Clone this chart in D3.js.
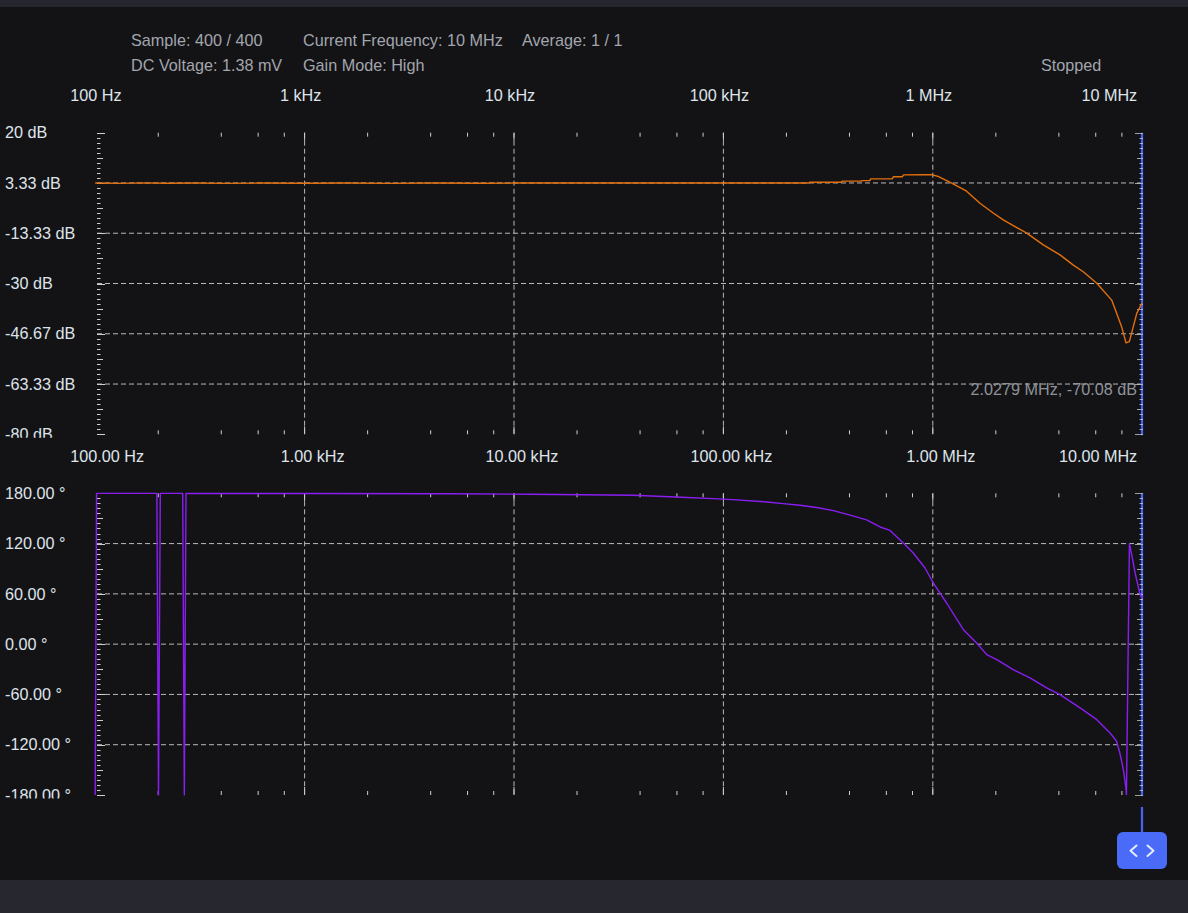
<!DOCTYPE html>
<html><head><meta charset="utf-8">
<script src="https://cdn.jsdelivr.net/npm/d3@7"></script>
<style>html,body{margin:0;padding:0;background:#131316;overflow:hidden}</style>
</head><body><svg id="c" width="1188" height="913"></svg>
<script>
// ---------- data ----------
const freqMag = [100,130,170,220,300,420,600,1000,1600,2500,4000,7000,10000,20000,40000,80000,150000,255000,258000,365000,369000,455000,460000,500000,505000,640000,648000,715000,725000,900000,989000,1060000,1120000,1250000,1450000,1680000,1950000,2170000,2520000,2810000,3370000,4050000,4690000,5230000,6070000,7150000,7550000,7980000,8370000,8680000,9060000,9420000,9770000,10000000];
const magDb = [3.3,3.2,3.35,3.25,3.3,3.2,3.3,3.25,3.3,3.2,3.3,3.25,3.3,3.3,3.3,3.3,3.3,3.3,3.55,3.55,3.95,3.95,4.1,4.1,4.7,4.7,5.4,5.4,6.0,6.05,6.05,5.5,4.7,3.0,0.6,-3.4,-6.7,-8.9,-11.5,-13.3,-17.2,-20.5,-23.9,-26.1,-29.9,-35.5,-39.9,-44.4,-49.7,-49.3,-44.4,-39.9,-37.7,-36.5];
const freqPhase = [100,101.5,197,200.6,204.6,261.7,266.5,271.4,1000,5000,12150,36990,63200,89200,115800,161000,192700,232000,279000,335000,403000,483000,560000,625000,723000,807000,918000,1005000,1164000,1400000,1620000,1810000,2020000,2420000,2910000,3500000,4050000,5050000,6070000,7020000,7550000,7820000,8130000,8340000,8410000,8690000,8910000,9250000,9770000,10000000];
const phaseDeg = [-180,179.9,179.9,-179.9,179.9,179.9,-179.9,179.9,179.8,179.5,178.8,177.7,175.3,173.6,172.1,169.7,167.7,165.8,163,159.4,153.9,148.3,139.8,135.7,120.7,108.8,90.9,73,49.1,17.3,1.4,-12.5,-18.5,-30.4,-40.3,-52.2,-60.2,-76.1,-90.1,-105.9,-115.9,-129.8,-149.7,-169.6,-179.5,119.9,106.8,84.9,59,55];

const decades = [100,1e3,1e4,1e5,1e6,1e7];
const topFreqLabels = ["100 Hz","1 kHz","10 kHz","100 kHz","1 MHz","10 MHz"];
const bottomFreqLabels = ["100.00 Hz","1.00 kHz","10.00 kHz","100.00 kHz","1.00 MHz","10.00 MHz"];
const minorMult = [2,4,6,8];
const dbTicks = [20,10/3,-40/3,-30,-140/3,-190/3,-80];
const dbTickLabels = ["20 dB","3.33 dB","-13.33 dB","-30 dB","-46.67 dB","-63.33 dB","-80 dB"];
const phaseTicks = [180,120,60,0,-60,-120,-180];
const phaseTickLabels = ["180.00 °","120.00 °","60.00 °","0.00 °","-60.00 °","-120.00 °","-180.00 °"];
const headerRow1 = [["Sample: 400 / 400",131],["Current Frequency: 10 MHz",303],["Average: 1 / 1",522]];
const headerRow2 = [["DC Voltage: 1.38 mV",131],["Gain Mode: High",303],["Stopped",1041]];
const markerLabel = "2.0279 MHz, -70.08 dB";

// ---------- setup ----------
const FONT = "'Liberation Sans', Arial, sans-serif";
const FS = 16.2;
const svg = d3.select("#c");
svg.append("rect").attr("width",1188).attr("height",913).attr("fill","#131316");
svg.append("rect").attr("width",1188).attr("height",7).attr("fill","#25262e");
svg.append("rect").attr("y",880).attr("width",1188).attr("height",33).attr("fill","#26272f");

const x = d3.scaleLog().domain([100,1e7]).range([95.2,1142.2]);
const yMag = d3.scaleLinear().domain([-80,20]).range([434.3,132.7]);
const yPh = d3.scaleLinear().domain([-180,180]).range([795,493.3]);
const L = 97, R = 1142;
const gridC = "#b9b9b9", tickC = "#cfcfcf", blue = "#4763f4";

// header
[[headerRow1,40],[headerRow2,65]].forEach(([row,yy])=>{
  svg.selectAll(null).data(row).join("text")
    .attr("x",d=>d[1]).attr("y",yy+5.7)
    .attr("font-family",FONT).attr("font-size",FS).attr("fill","#a2a6ad")
    .text(d=>d[0]);
});

const defs = svg.append("defs");
let clipId = 0;

function panel(y, ticks, tickLabels, xLabels, xLabelY, midOff, series, color) {
  const g = svg.append("g");
  const [yb, yt] = y.range();
  const dom = y.domain();
  g.selectAll(null).data(decades).join("text")
    .attr("x",(d,i)=> i===0 ? x(d)-25 : i===decades.length-1 ? x(d)-5 : x(d)+midOff)
    .attr("text-anchor",(d,i)=> i===0 ? "start" : i===decades.length-1 ? "end" : "middle")
    .attr("y",xLabelY+5.7)
    .attr("font-family",FONT).attr("font-size",FS).attr("fill","#dfe3ea")
    .text((d,i)=>xLabels[i]);
  const cid = "clip"+(clipId++);
  defs.append("clipPath").attr("id",cid).append("rect")
    .attr("x",0).attr("y",yt-20).attr("width",95).attr("height",yb-yt+23.5);
  g.append("g").attr("clip-path",`url(#${cid})`)
    .selectAll(null).data(ticks).join("text")
    .attr("x",5).attr("y",d=>y(d)+5.7)
    .attr("font-family",FONT).attr("font-size",FS).attr("fill","#dfe3ea")
    .text((d,i)=>tickLabels[i]);
  g.selectAll(null).data(decades.slice(1,5)).join("line")
    .attr("x1",d=>x(d)).attr("x2",d=>x(d)).attr("y1",yt).attr("y2",yb)
    .attr("stroke",gridC).attr("stroke-dasharray","5,3");
  g.selectAll(null).data(ticks.slice(1,ticks.length-1)).join("line")
    .attr("x1",L).attr("x2",R).attr("y1",d=>y(d)).attr("y2",d=>y(d))
    .attr("stroke",gridC).attr("stroke-dasharray","5,3");
  const maj = decades.slice(1,5);
  [[yt,yt+8],[yb-8,yb]].forEach(([a,b])=>{
    g.selectAll(null).data(maj).join("line")
      .attr("x1",d=>x(d)).attr("x2",d=>x(d)).attr("y1",a).attr("y2",b)
      .attr("stroke",tickC);
  });
  const minors = [];
  decades.slice(0,5).forEach(d=>minorMult.forEach(m=>minors.push(d*m)));
  [[yt,yt+4],[yb-4,yb]].forEach(([a,b])=>{
    g.selectAll(null).data(minors).join("line")
      .attr("x1",d=>x(d)).attr("x2",d=>x(d)).attr("y1",a).attr("y2",b)
      .attr("stroke",tickC);
  });
  g.append("line").attr("x1",R).attr("x2",R).attr("y1",yt).attr("y2",yb+1)
    .attr("stroke",blue).attr("stroke-width",2.2);
  const steps = d3.range(0,61);
  const val = i => dom[0] + i*(dom[1]-dom[0])/60;
  const len = i => i%10===0 ? 8 : (i%5===0 ? 6 : 3.5);
  g.selectAll(null).data(steps).join("line")
    .attr("x1",L).attr("x2",i=>L+len(i))
    .attr("y1",i=>Math.round(y(val(i)))+0.5).attr("y2",i=>Math.round(y(val(i)))+0.5)
    .attr("stroke",tickC);
  g.selectAll(null).data(steps).join("line")
    .attr("x1",i=>R+1-len(i)).attr("x2",R+1)
    .attr("y1",i=>Math.round(y(val(i)))+0.5).attr("y2",i=>Math.round(y(val(i)))+0.5)
    .attr("stroke",tickC).attr("stroke-opacity",0.75);
  const line = d3.line().x(d=>x(d[0])).y(d=>y(d[1]));
  g.append("path").datum(series).attr("d",line)
    .attr("fill","none").attr("stroke",color).attr("stroke-width",1.4)
    .attr("stroke-linejoin","round");
  return g;
}

const magSeries = freqMag.map((f,i)=>[f,magDb[i]]);
const phSeries = freqPhase.map((f,i)=>[f,phaseDeg[i]]);

panel(yMag, dbTicks, dbTickLabels, topFreqLabels, 95, -4, magSeries, "#e4700d");
panel(yPh, phaseTicks, phaseTickLabels, bottomFreqLabels, 456, 8, phSeries, "#8a1ef2");

svg.append("text").attr("x",1137).attr("y",389+5.7).attr("text-anchor","end")
  .attr("font-family",FONT).attr("font-size",FS).attr("fill","#8e9298")
  .text(markerLabel);

svg.append("line").attr("x1",R).attr("x2",R).attr("y1",807).attr("y2",833)
  .attr("stroke",blue).attr("stroke-width",2.2);
svg.append("rect").attr("x",1117).attr("y",832).attr("width",50).attr("height",37)
  .attr("rx",6).attr("fill","#4a6bf8");
svg.append("path").attr("d","M1136.5,845.5 L1130.5,850.7 L1136.5,856 M1147.5,845.5 L1153.5,850.7 L1147.5,856")
  .attr("fill","none").attr("stroke","#e6ebff").attr("stroke-width",2).attr("stroke-linecap","round").attr("stroke-linejoin","round");
</script>
</body></html>
